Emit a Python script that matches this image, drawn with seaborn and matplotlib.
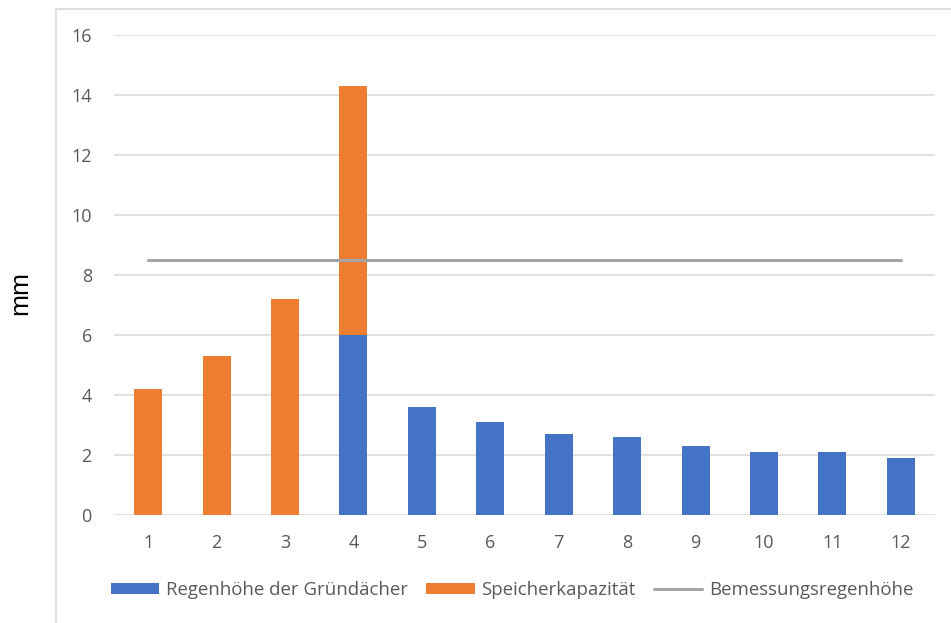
import numpy as np
import pandas as pd
import matplotlib
matplotlib.use("Agg")
import matplotlib.pyplot as plt
import seaborn as sns
from matplotlib.lines import Line2D
from matplotlib.patches import Patch

categories = ["1", "2", "3", "4", "5", "6", "7", "8", "9", "10", "11", "12"]
regenhoehe = [0, 0, 0, 6.0, 3.6, 3.1, 2.7, 2.6, 2.3, 2.1, 2.1, 1.9]
speicher = [4.2, 5.3, 7.2, 8.3, 0, 0, 0, 0, 0, 0, 0, 0]
bemessung = [8.5] * 12

label_blue = "Regenhöhe der Gründächer"
label_orange = "Speicherkapazität"
label_line = "Bemessungsregenhöhe"

blue = "#4472C4"
orange = "#ED7D31"
gray = "#A5A5A5"
grid = "#D9D9D9"
txt = "#595959"

sns.set_theme(style="white")
plt.rcParams["font.family"] = ["Open Sans", "DejaVu Sans"]

df = pd.DataFrame({
    "cat": categories,
    "blue": regenhoehe,
    "orange": speicher,
    "line": bemessung,
})
df["total"] = df["blue"] + df["orange"]
df["pos"] = np.arange(len(df))

fig = plt.figure(figsize=(9.51, 6.23), dpi=100)
ax = fig.add_axes([114/951, 1-515/623, (935-114)/951, (515-35)/623])

sns.barplot(data=df, x="cat", y="total", color=orange, width=0.41,
            saturation=1, ax=ax, zorder=2, edgecolor="none", linewidth=0)
sns.barplot(data=df, x="cat", y="blue", color=blue, width=0.41,
            saturation=1, ax=ax, zorder=3, edgecolor="none", linewidth=0)
sns.lineplot(data=df, x="pos", y="line", color=gray, linewidth=2.2,
             ax=ax, zorder=4)

ax.set_xlim(-0.5, 11.5)
ax.set_ylim(0, 16)
ax.set_yticks(np.arange(0, 17, 2))
ax.yaxis.grid(True, color=grid, linewidth=1.1, zorder=0)
ax.set_axisbelow(True)
for s in ax.spines.values():
    s.set_visible(False)
ax.set_xlabel("")
ax.set_ylabel("")
ax.tick_params(axis="y", length=0, pad=16, labelsize=13, labelcolor=txt)
ax.tick_params(axis="x", length=0, pad=14, labelsize=13, labelcolor=txt)

fig.text(20/951, 1-293/623, "mm", rotation=90, ha="center", va="center",
         fontsize=19, color="black", family=["Liberation Sans", "DejaVu Sans"])

# chart area border
fig.add_artist(Line2D([56/951, 56/951], [0, 1-9/623], transform=fig.transFigure,
                      color=grid, linewidth=1.2))
fig.add_artist(Line2D([56/951, 1], [1-9/623, 1-9/623], transform=fig.transFigure,
                      color=grid, linewidth=1.2))

handles = [Patch(facecolor=blue, edgecolor="none"),
           Patch(facecolor=orange, edgecolor="none"),
           Line2D([0], [0], color=gray, linewidth=2.2)]
leg = fig.legend(handles, [label_blue, label_orange, label_line], ncol=3,
                 loc="center", bbox_to_anchor=(512/951, 1-590/623),
                 frameon=False, fontsize=13.4, handlelength=2.6, handleheight=0.6,
                 handletextpad=0.35, columnspacing=1.0)
for t in leg.get_texts():
    t.set_color(txt)

fig.savefig("out.png", dpi=100, facecolor="white")
